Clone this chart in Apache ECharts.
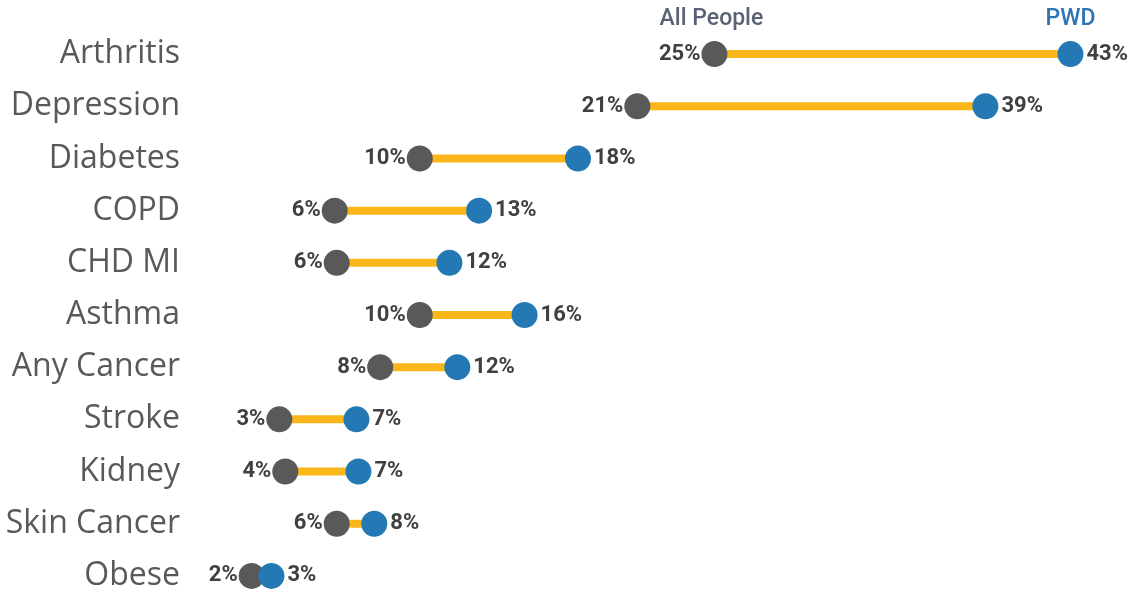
<!DOCTYPE html>
<html><head><meta charset="utf-8">
<script src="https://cdn.jsdelivr.net/npm/echarts@6/dist/echarts.min.js"></script>
<style>html,body{margin:0;padding:0;background:#fff}#c{width:1131px;height:590px}</style>
</head><body><div id="c"></div>
<script>
const categories = ['Arthritis','Depression','Diabetes','COPD','CHD MI','Asthma','Any Cancer','Stroke','Kidney','Skin Cancer','Obese'];
const allPeople = [25.0, 21.1, 10.1, 5.8, 5.9, 10.1, 8.1, 3.0, 3.3, 5.9, 1.6];
const pwd = [43.0, 38.7, 18.1, 13.1, 11.6, 15.4, 12.0, 6.9, 7.0, 7.8, 2.6];
const allPeopleLabels = ['25%','21%','10%','6%','6%','10%','8%','3%','4%','6%','2%'];
const pwdLabels = ['43%','39%','18%','13%','12%','16%','12%','7%','7%','8%','3%'];
const seriesNames = ['All People', 'PWD'];

const gap = pwd.map((v, i) => +(v - allPeople[i]).toFixed(2));
const numFont = 'Roboto, sans-serif';

const chart = echarts.init(document.getElementById('c'));
chart.setOption({
  animation: false,
  grid: {left: 220, top: 28, width: 890, height: 574, outerBoundsMode: 'none', containLabel: false},
  xAxis: {type: 'value', min: 0, max: 45, show: false},
  yAxis: {type: 'category', data: categories, inverse: true,
    axisLine: {show: false}, axisTick: {show: false}, splitLine: {show: false},
    axisLabel: {color: '#595959', fontSize: 32, fontFamily: '"Open Sans", sans-serif', margin: 40}},
  series: [
    {type: 'bar', stack: 's', data: allPeople, barWidth: 8, itemStyle: {color: 'transparent'}, silent: true},
    {type: 'bar', stack: 's', data: gap, barWidth: 8, itemStyle: {color: '#FBB61A'}, silent: true},
    {type: 'scatter', name: seriesNames[0], data: allPeople, symbolSize: 26, itemStyle: {color: '#595959', opacity: 1},
      label: {show: true, position: 'left', distance: 1, formatter: p => allPeopleLabels[p.dataIndex],
        color: '#404040', fontSize: 22, fontWeight: 'bold', fontFamily: numFont}},
    {type: 'scatter', name: seriesNames[1], data: pwd, symbolSize: 26, itemStyle: {color: '#2479B5', opacity: 1},
      label: {show: true, position: 'right', distance: 3, formatter: p => pwdLabels[p.dataIndex],
        color: '#404040', fontSize: 22, fontWeight: 'bold', fontFamily: numFont}}
  ]
});
const p0 = chart.convertToPixel({gridIndex: 0}, [allPeople[0], 0]);
const p1 = chart.convertToPixel({gridIndex: 0}, [pwd[0], 0]);
chart.setOption({
  graphic: [
    {type: 'text', x: p0[0] - 3, y: p0[1] - 35, style: {text: seriesNames[0], fill: '#5A6275', fontSize: 23, fontWeight: 500, fontFamily: numFont, align: 'center', verticalAlign: 'middle'}},
    {type: 'text', x: p1[0], y: p1[1] - 35, style: {text: seriesNames[1], fill: '#2E75B6', fontSize: 23, fontWeight: 500, fontFamily: numFont, align: 'center', verticalAlign: 'middle'}}
  ]
});
</script></body></html>
